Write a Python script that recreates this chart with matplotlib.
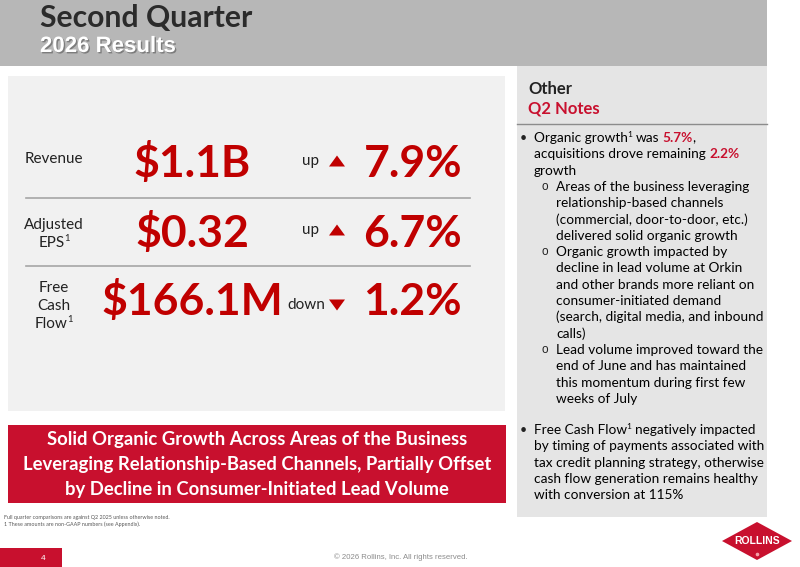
import re
import matplotlib
matplotlib.use("Agg")
import matplotlib.pyplot as plt
from matplotlib.patches import Rectangle, Polygon
import matplotlib.patheffects as pe

#=================================DATA=========================================#

title_main = "Second Quarter"
title_sub = "2026 Results"

# ^1 = superscript footnote mark, *text* = red bold
metric_labels = [["Revenue"], ["Adjusted", "EPS^1"], ["Free", "Cash", "Flow^1"]]
metric_values = ["$1.1B", "$0.32", "$166.1M"]
metric_dirs = ["up", "up", "down"]
metric_changes = ["7.9%", "6.7%", "1.2%"]

banner_lines = ["Solid Organic Growth Across Areas of the Business",
                "Leveraging Relationship-Based Channels, Partially Offset",
                "by Decline in Consumer-Initiated Lead Volume"]

notes_head = ["Other", "Q2 Notes"]
notes = [
    ("•", ["Organic growth^1 was *5.7%*,",
           "acquisitions drove remaining *2.2%*",
           "growth"]),
    ("o", ["Areas of the business leveraging",
           "relationship-based channels",
           "(commercial, door-to-door, etc.)",
           "delivered solid organic growth"]),
    ("o", ["Organic growth impacted by",
           "decline in lead volume at Orkin",
           "and other brands more reliant on",
           "consumer-initiated demand",
           "(search, digital media, and inbound",
           "calls)"]),
    ("o", ["Lead volume improved toward the",
           "end of June and has maintained",
           "this momentum during first few",
           "weeks of July"]),
    ("•", ["Free Cash Flow^1 negatively impacted",
           "by timing of payments associated with",
           "tax credit planning strategy, otherwise",
           "cash flow generation remains healthy",
           "with conversion at 115%"]),
]

footnotes = ["Full quarter comparisons are against Q2 2025 unless otherwise noted.",
             "1 These amounts are non-GAAP numbers (see Appendix)."]
page_no = "4"
copyright_txt = "© 2026 Rollins, Inc. All rights reserved."

#================================STYLE=========================================#

RED = "#c8102e"
NUM_RED = "#c00000"
DARK = "#222222"
FONT = "Lato"

W, H = 800, 567
fig = plt.figure(figsize=(W / 100, H / 100), dpi=100)
ax = fig.add_axes([0, 0, 1, 1])
ax.set_xlim(0, W)
ax.set_ylim(H, 0)
ax.axis("off")
renderer = fig.canvas.get_renderer()


def width_of(t):
    return t.get_window_extent(renderer=renderer).width


def space_width(size):
    a = ax.text(0, 0, "a a", fontsize=size, family=FONT)
    b = ax.text(0, 0, "aa", fontsize=size, family=FONT)
    s = width_of(a) - width_of(b)
    a.remove()
    b.remove()
    return s


def tri(cx, cy, up, w=16, h=11):
    if up:
        pts = [(cx - w / 2, cy + h / 2), (cx + w / 2, cy + h / 2), (cx, cy - h / 2)]
    else:
        pts = [(cx - w / 2, cy - h / 2), (cx + w / 2, cy - h / 2), (cx, cy + h / 2)]
    ax.add_patch(Polygon(pts, closed=True, color=NUM_RED, lw=0))


def rich_line(x, y, line, size, color="black", ha="left"):
    tokens = [tk for tk in re.split(r"(\*[^*]+\*|\^1)", line) if tk]
    sp = space_width(size)
    texts = []
    cx = x
    for tk in tokens:
        if tk.startswith("*"):
            t = ax.text(cx, y, tk.strip("*"), fontsize=size, family=FONT,
                        color=RED, weight="bold", va="baseline")
        elif tk == "^1":
            t = ax.text(cx - 0.5, y - size * 0.55, "1", fontsize=size * 0.62,
                        family=FONT, color=color, va="baseline")
        else:
            t = ax.text(cx, y, tk.strip(" "), fontsize=size, family=FONT,
                        color=color, va="baseline")
            if tk.startswith(" "):
                t.set_x(cx + sp)
                cx += sp
        cx += width_of(t) - (0.5 if tk == "^1" else 0)
        if tk.startswith("*"):
            cx -= 1
        if tk.endswith(" ") and not tk.startswith("*"):
            cx += sp
        texts.append(t)
    if ha == "center":
        shift = (cx - x) / 2
        for t in texts:
            t.set_x(t.get_position()[0] - shift)


#================================HEADER========================================#

ax.add_patch(Rectangle((0, 0), 767, 66, color="#b7b7b7", lw=0))
ax.text(40, 27, title_main, fontsize=21.7, family=FONT, weight="bold",
        color="#2b2b2b", va="baseline")
ax.text(40, 52, title_sub, fontsize=16, family="Liberation Sans", weight="bold",
        color="white", va="baseline",
        path_effects=[pe.SimplePatchShadow(offset=(1, -1), shadow_rgbFace="#555555", alpha=0.6),
                      pe.Normal()])

#================================METRICS=======================================#

ax.add_patch(Rectangle((8, 76), 497, 335, color="#f1f1f1", lw=0))

label_y = [[163], [229, 247], [292, 310, 328]]
num_base = [177, 247, 315]
dir_x = [302, 302, 287]
dir_y = [161, 230, 305]

for i in range(len(metric_values)):
    for lab, ly in zip(metric_labels[i], label_y[i]):
        rich_line(54, ly, lab, 11, color=DARK, ha="center")
    ax.text(192, num_base[i], metric_values[i], fontsize=32, family=FONT,
            weight="bold", color=NUM_RED, ha="center", va="baseline")
    ax.text(dir_x[i], dir_y[i], metric_dirs[i], fontsize=11, family=FONT,
            color=DARK, ha="left", va="center")
    tri(337, dir_y[i], metric_dirs[i] == "up")
    ax.text(462, num_base[i], metric_changes[i], fontsize=32, family=FONT,
            weight="bold", color=NUM_RED, ha="right", va="baseline")

for sy in [198, 266]:
    ax.plot([26, 470], [sy, sy], color="#a6a6a6", lw=1.2)

#================================BANNER========================================#

ax.add_patch(Rectangle((8, 425), 498, 78, color=RED, lw=0))
for k, line in enumerate(banner_lines):
    ax.text(257, 440 + k * 24.5, line, fontsize=13.3, family=FONT, weight="bold",
            color="white", ha="center", va="center")

#================================NOTES=========================================#

ax.add_patch(Rectangle((517, 66), 250, 451, color="#e5e5e5", lw=0))
ax.text(528, 94, notes_head[0], fontsize=12, family=FONT, weight="bold",
        color=DARK, va="baseline")
ax.text(528, 114, notes_head[1], fontsize=12, family=FONT, weight="bold",
        color=RED, va="baseline")
ax.plot([517, 767], [124, 124], color="#8c8c8c", lw=1)

step = 16.3
y = 142
for marker, lines in notes:
    if marker == "•":
        ax.text(523, y, "•", fontsize=9, family=FONT, color=DARK, ha="center", va="baseline")
        tx = 534
    else:
        ax.text(545, y - 1, "o", fontsize=8.5, family="Liberation Sans", color=DARK,
                ha="center", va="baseline")
        tx = 556
    for line in lines:
        rich_line(tx, y, line, 9.8, color="black")
        y += step
    if marker == "o" and lines[0].startswith("Lead"):
        y += 15

#================================FOOTER========================================#

for k, fn in enumerate(footnotes):
    ax.text(4, 517 + k * 7, fn, fontsize=3.9, family=FONT, color="#595959", va="center")

ax.add_patch(Rectangle((0, 548), 62, 19, color=RED, lw=0))
ax.text(43, 558, page_no, fontsize=6, family="Liberation Sans", color="white",
        ha="center", va="center")
ax.text(401, 557, copyright_txt, fontsize=5.6, family="Liberation Sans",
        color="#8c8c8c", ha="center", va="center")

# logo
ax.add_patch(Polygon([(722, 541), (757, 522), (792, 541), (757, 560)], closed=True,
                     color=RED, lw=0))
ax.text(757, 541, "ROLLINS", fontsize=7.5, family="Liberation Sans", weight="bold",
        color="white", ha="center", va="center")
ax.plot([757], [553.5], marker="o", ms=1.6, color="#f4a0a8", lw=0)

fig.savefig("out.png", dpi=100)
